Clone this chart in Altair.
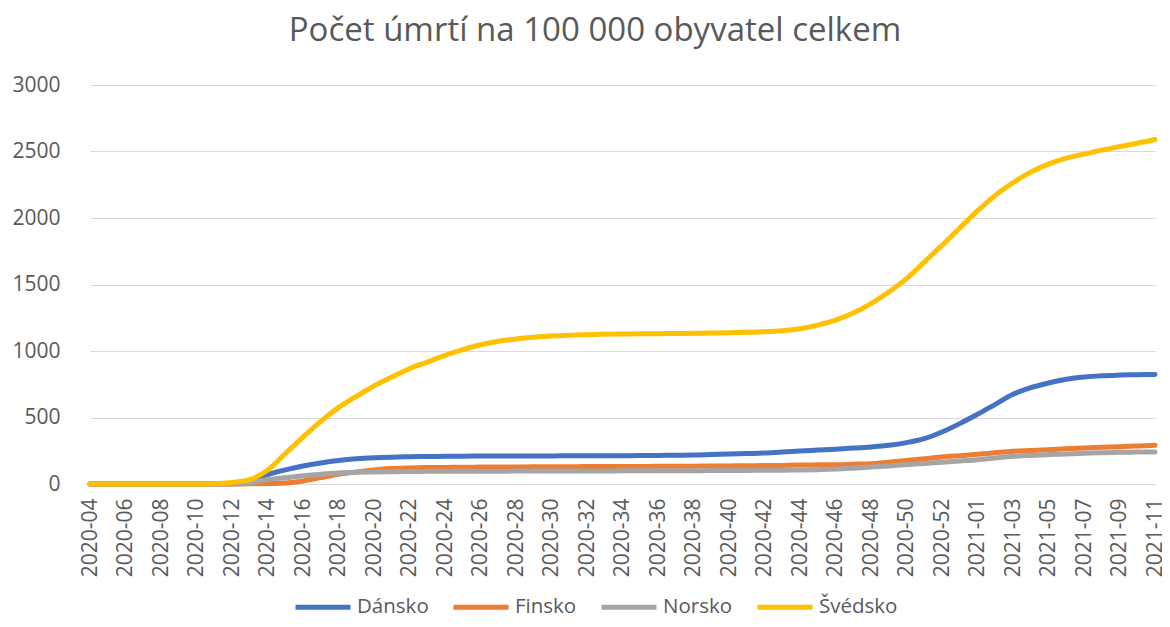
import altair as alt
import pandas as pd

weeks = [f"2020-{w:02d}" for w in range(4, 54)] + [f"2021-{w:02d}" for w in range(1, 12)]

countries = ["Dánsko", "Finsko", "Norsko", "Švédsko"]
colors = ["#4472C4", "#ED7D31", "#A5A5A5", "#FFC000"]

dansko = [0, 0, 0, 0, 0, 0, 0, 0, 3, 22,
          70, 106, 135, 158, 176, 189, 197, 202, 205, 207,
          208, 209, 210, 210, 210, 211, 211, 212, 212, 213,
          213, 214, 215, 216, 218, 221, 225, 229, 233, 240,
          248, 255, 262, 270, 279, 291, 311, 341, 391, 454,
          524, 599, 674, 724, 759, 787, 804, 814, 819, 822,
          824]
finsko = [0, 0, 0, 0, 0, 0, 0, 0, 0, 1,
          3, 8, 23, 48, 73, 90, 106, 116, 121, 124,
          125, 126, 127, 127, 128, 129, 130, 130, 131, 131,
          132, 132, 133, 133, 134, 135, 136, 137, 139, 140,
          142, 144, 145, 149, 153, 164, 176, 190, 203, 213,
          223, 235, 246, 252, 258, 265, 271, 276, 281, 286,
          291]
norsko = [0, 0, 0, 0, 0, 0, 0, 0, 0, 8,
          33, 47, 62, 74, 83, 88, 91, 93, 94, 95,
          95, 96, 96, 96, 97, 97, 97, 98, 98, 98,
          99, 99, 99, 100, 100, 101, 101, 102, 103, 104,
          105, 108, 112, 119, 127, 136, 145, 154, 163, 173,
          183, 196, 208, 215, 221, 226, 231, 235, 238, 240,
          241]
svedsko = [0, 0, 0, 0, 0, 0, 0, 2, 12, 33,
           103, 228, 353, 471, 574, 659, 737, 804, 867, 917,
           967, 1010, 1047, 1073, 1090, 1103, 1113, 1119, 1123, 1126,
           1128, 1129, 1130, 1132, 1133, 1135, 1138, 1141, 1145, 1153,
           1168, 1195, 1232, 1285, 1356, 1443, 1544, 1669, 1794, 1925,
           2053, 2170, 2265, 2345, 2405, 2450, 2480, 2510, 2537, 2562,
           2590]

y_ticks = [0, 500, 1000, 1500, 2000, 2500, 3000]

series = [dansko, finsko, norsko, svedsko]
rows = []
for c, vals in zip(countries, series):
    for w, v in zip(weeks, vals):
        rows.append({"week": w, "value": v, "country": c})
df = pd.DataFrame(rows)

FONT = "Open Sans"
TXT = "#595959"

chart = alt.Chart(df).mark_line(
    interpolate="monotone", strokeWidth=5, strokeCap="round", strokeJoin="round"
).encode(
    x=alt.X(
        "week:N",
        sort=weeks,
        scale=alt.Scale(type="point", padding=0, range=[10, 1075]),
        axis=alt.Axis(
            values=weeks[::2], labelAngle=-90, title=None, grid=False, ticks=False,
            domainColor="#D9D9D9", domainWidth=1, labelFont=FONT, labelFontSize=21,
            labelColor=TXT, labelPadding=14, labelOverlap=False,
        ),
    ),
    y=alt.Y(
        "value:Q",
        scale=alt.Scale(domain=[0, 3000]),
        axis=alt.Axis(
            values=y_ticks, format="d", title=None, domain=False, ticks=False,
            gridColor="#D9D9D9", gridWidth=1, labelFont=FONT, labelFontSize=21,
            labelColor=TXT, labelPadding=20,
        ),
    ),
    color=alt.Color(
        "country:N",
        scale=alt.Scale(domain=countries, range=colors),
        legend=alt.Legend(
            title=None, orient="none", direction="horizontal", columns=4,
            legendX=213, legendY=492, symbolType="stroke", symbolSize=3025,
            symbolStrokeWidth=5, labelFont=FONT, labelFontSize=20.5, labelColor=TXT,
            labelOffset=4, columnPadding=14,
        ),
    ),
).properties(
    width=1082,
    height=399,
    autosize=alt.AutoSizeParams(type="none"),
    padding={"left": 72, "top": 77, "right": 0, "bottom": 135},
    title=alt.TitleParams(
        "Počet úmrtí na 100 000 obyvatel celkem", font=FONT, fontSize=33,
        fontWeight="normal", color=TXT, anchor="middle", dx=-26, dy=40, offset=40,
        baseline="alphabetic",
    ),
).configure_view(stroke=None)

chart.save("out.html", embed_options={"renderer": "svg", "actions": False})
